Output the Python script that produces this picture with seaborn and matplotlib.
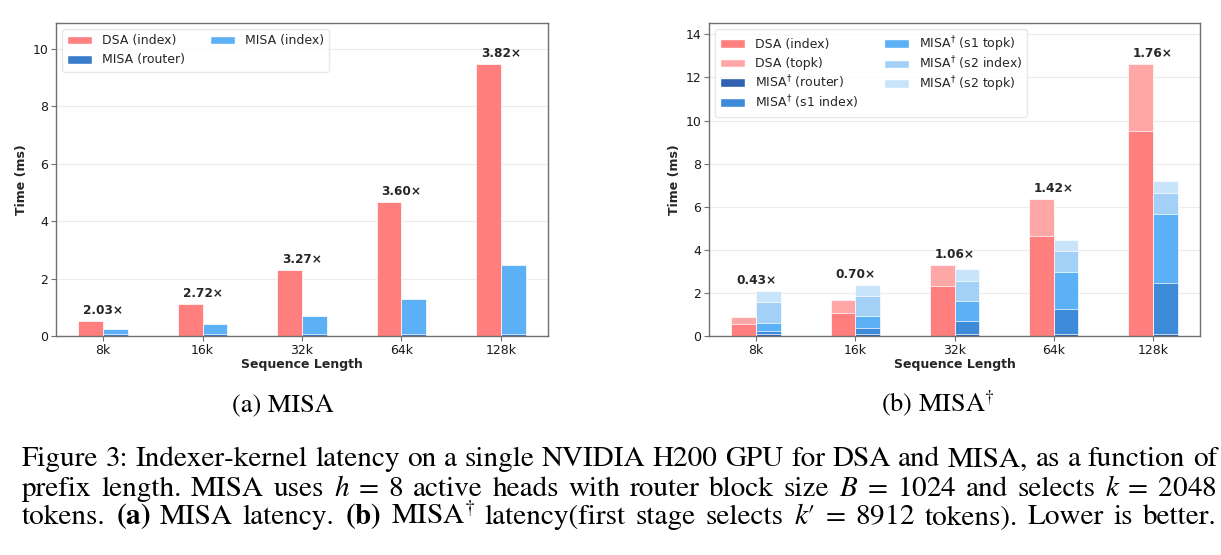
import re
import matplotlib
matplotlib.use("Agg")
import matplotlib.pyplot as plt
from matplotlib.patches import Patch, Rectangle
from matplotlib.legend_handler import HandlerPatch
import seaborn as sns

# ---- data ----
lengths = ["8k", "16k", "32k", "64k", "128k"]

# (a) MISA
dsa_index_a = [0.52, 1.11, 2.31, 4.65, 9.48]
misa_router_a = [0.07, 0.07, 0.07, 0.07, 0.07]
misa_index_a = [0.19, 0.34, 0.64, 1.22, 2.41]
speedup_a = ["2.03×", "2.72×", "3.27×", "3.60×", "3.82×"]

# (b) MISA-dagger
dsa_index_b = [0.54, 1.09, 2.30, 4.66, 9.50]
dsa_topk_b = [0.35, 0.59, 1.00, 1.69, 3.13]
misa_router_b = [0.07, 0.07, 0.07, 0.07, 0.07]
misa_s1_index_b = [0.16, 0.32, 0.61, 1.19, 2.40]
misa_s1_topk_b = [0.37, 0.54, 0.95, 1.72, 3.19]
misa_s2_index_b = [0.97, 0.92, 0.93, 0.97, 0.97]
misa_s2_topk_b = [0.51, 0.52, 0.54, 0.52, 0.54]
speedup_b = ["0.43×", "0.70×", "1.06×", "1.42×", "1.76×"]

MD = r"MISA$^{\dagger}$ "
segments_a = [
    ("DSA", "DSA (index)", dsa_index_a, "#ff7f7f"),
    ("MISA", "MISA (router)", misa_router_a, "#3b7bcb"),
    ("MISA", "MISA (index)", misa_index_a, "#5cb0f5"),
]
segments_b = [
    ("DSA", "DSA (index)", dsa_index_b, "#ff7f7f"),
    ("DSA", "DSA (topk)", dsa_topk_b, "#ffa6a6"),
    ("MISA", MD + "(router)", misa_router_b, "#2f62b0"),
    ("MISA", MD + "(s1 index)", misa_s1_index_b, "#3d8ad8"),
    ("MISA", MD + "(s1 topk)", misa_s1_topk_b, "#5cb0f5"),
    ("MISA", MD + "(s2 index)", misa_s2_index_b, "#a2d0f7"),
    ("MISA", MD + "(s2 topk)", misa_s2_topk_b, "#c8e4fa"),
]

sns.set_style("whitegrid", {
    "axes.edgecolor": "#707070",
    "grid.color": "#ececec",
    "xtick.bottom": True,
    "ytick.left": True,
})
plt.rcParams["font.family"] = ["DejaVu Sans"]
plt.rcParams["axes.linewidth"] = 1.0
plt.rcParams["grid.linewidth"] = 0.8

W, H = 1221, 555
fig = plt.figure(figsize=(W / 100, H / 100), dpi=100)
ax_a = fig.add_axes([56 / W, 1 - 336 / H, 492 / W, 313 / H])
ax_b = fig.add_axes([709 / W, 1 - 336 / H, 491 / W, 313 / H])


def swatch(legend, orig_handle, xdescent, ydescent, width, height, fontsize):
    # fixed-size swatch sitting on the text baseline, whatever the row height
    return Rectangle((-xdescent, 0), width, 0.7 * fontsize)


def draw_stacked(ax, segments, speedups, tall_rows=False):
    # running tops per method so the stack can be drawn top-down
    tops = {"DSA": [0.0] * len(lengths), "MISA": [0.0] * len(lengths)}
    layers = []
    for method, label, vals, color in segments:
        tops[method] = [t + v for t, v in zip(tops[method], vals)]
        layers.append((method, list(tops[method]), color))

    for method, top, color in reversed(layers):
        sns.barplot(
            x=lengths, y=top, hue=[method] * len(lengths),
            order=lengths, hue_order=["DSA", "MISA"],
            palette={"DSA": color, "MISA": color},
            width=0.5, dodge=True, saturation=1, errorbar=None,
            edgecolor="white", linewidth=0.5, legend=False, ax=ax,
        )

    peak = [max(d, m) for d, m in zip(tops["DSA"], tops["MISA"])]
    for i, (lab, y) in enumerate(zip(speedups, peak)):
        ax.annotate(lab, xy=(i, y), xytext=(0, 3), textcoords="offset points",
                    ha="center", va="bottom", fontsize=8.7, fontweight="bold")

    ax.set_xlim(-0.475, len(lengths) - 0.525)
    ax.set_ylim(0, max(peak) * 1.15)
    ax.set_xlabel("Sequence Length", fontsize=9, fontweight="bold", labelpad=1)
    ax.set_ylabel("Time (ms)", fontsize=9, fontweight="bold", labelpad=3)
    ax.tick_params(axis="both", labelsize=9, length=3.5, width=0.8,
                   colors="#707070", labelcolor="#1a1a1a", pad=2)
    ax.grid(axis="x", visible=False)
    for sp in ax.spines.values():
        sp.set_visible(True)

    handles = [Patch(facecolor=c, label=l) for _, l, _, c in segments]
    extra = {}
    if tall_rows:
        # rows as tall as the dagger labels, so both columns line up
        extra = dict(handler_map={Patch: HandlerPatch(patch_func=swatch)},
                     handleheight=1.9, labelspacing=0.05)
    ax.legend(handles=handles, loc="upper left", ncol=2, fontsize=9,
              frameon=True, framealpha=0.8, edgecolor="#e3e3e3", **extra)


draw_stacked(ax_a, segments_a, speedup_a)
draw_stacked(ax_b, segments_b, speedup_b, tall_rows=True)

# ---- sub-captions and figure caption (serif, justified like LaTeX) ----
serif = dict(family="STIXGeneral", math_fontfamily="stix", color="black")
fig.text(283 / W, 1 - 411 / H, "(a) MISA", ha="center", va="baseline",
         fontsize=19, **serif)
fig.text(938 / W, 1 - 411 / H, r"(b) MISA$^{\dagger}$", ha="center",
         va="baseline", fontsize=19, **serif)

caption = [
    "Figure 3: Indexer-kernel latency on a single NVIDIA H200 GPU for DSA and MISA, as a function of",
    r"prefix length. MISA uses $h\;=\;8$ active heads with router block size $B\;=\;1024$ and selects $k\;=\;2048$",
    r"tokens. $\mathbf{(a)}$ MISA latency. $\mathbf{(b)}$ MISA$^{\dagger}$ latency(first stage selects $k$′$\;=\;8912$ tokens). Lower is better.",
]
baselines = [466.5, 495.5, 524.5]
x_left, x_right = 22, 1217

fig.canvas.draw()
renderer = fig.canvas.get_renderer()
for line, yb in zip(caption, baselines):
    words = re.findall(r"(?:[^\s$]|\$[^$]*\$)+", line)
    texts = [fig.text(0, 1 - yb / H, w, ha="left", va="baseline",
                      fontsize=21, **serif) for w in words]
    widths = [t.get_window_extent(renderer=renderer).width for t in texts]
    gap = (x_right - x_left - sum(widths)) / (len(words) - 1)
    x = x_left
    for t, w in zip(texts, widths):
        t.set_x(x / W)
        x += w + gap

fig.savefig("out.png", dpi=100)
